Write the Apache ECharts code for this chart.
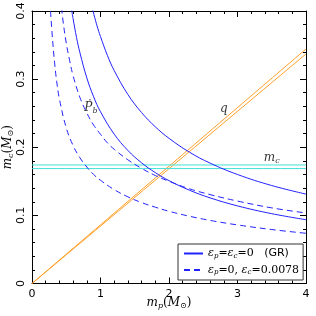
<!DOCTYPE html>
<html><head><meta charset="utf-8">
<script src="https://cdn.jsdelivr.net/npm/echarts@6/dist/echarts.min.js"></script>
<style>html,body{margin:0;padding:0;background:#fff}#c{width:316px;height:316px}</style>
</head><body><div id="c"></div>
<script>
// ---- data ----
const xTickLabels = ['0','1','2','3','4'];
const yTickLabels = ['0','0.1','0.2','0.3','0.4'];
// GR (solid) Pdot curves: [m_p, m_c]
const grUpper = [[0.88,0.404],[0.95,0.378],[1.0,0.3625],[1.1,0.335],[1.2,0.3126],[1.4,0.2774],[1.6,0.2509],[1.8,0.230],[2.0,0.2131],[2.3,0.1927],[2.6,0.1767],[3.0,0.160],[3.5,0.1438],[4.0,0.1312]];
const grLower = [[0.58,0.401],[0.6,0.3887],[0.65,0.3612],[0.7,0.3387],[0.8,0.3019],[0.9,0.274],[1.0,0.2521],[1.2,0.2192],[1.4,0.1953],[1.6,0.1771],[1.8,0.1628],[2.0,0.151],[2.3,0.1369],[2.6,0.1257],[3.0,0.1139],[3.5,0.1025],[4.0,0.0936]];
// eps_p=0, eps_c=0.0078 (dashed) Pdot curves
const dipUpper = [[0.43,0.405],[0.46,0.38],[0.5,0.353],[0.55,0.327],[0.6,0.305],[0.7,0.273],[0.8,0.2505],[0.9,0.2325],[1.0,0.219],[1.1,0.2065],[1.2,0.197],[1.4,0.1815],[1.6,0.169],[1.8,0.1585],[2.0,0.150],[2.3,0.139],[2.6,0.1305],[3.0,0.121],[3.5,0.111],[4.0,0.1035]];
const dipLower = [[0.27,0.40],[0.3,0.358],[0.33,0.324],[0.36,0.297],[0.4,0.271],[0.5,0.2285],[0.6,0.2025],[0.7,0.1845],[0.8,0.171],[0.9,0.160],[1.0,0.1515],[1.2,0.1378],[1.4,0.1272],[1.6,0.1188],[1.8,0.112],[2.0,0.106],[2.3,0.0987],[2.6,0.0926],[3.0,0.086],[3.5,0.0792],[4.0,0.0737]];
// mass-ratio (q) lines
const qUpper = [[0,0],[4,0.3443]];
const qLower = [[0,0],[4,0.337]];
// companion-mass (m_c) band
const mcUpper = [[0,0.174],[4,0.174]];
const mcLower = [[0,0.1687],[4,0.1687]];
// annotation anchors [m_p, m_c, label]
const notes = [[0.86,0.258,'pb'],[2.80,0.256,'q'],[3.50,0.185,'mc']];

const serif = 'DejaVu Serif';
const sans = 'DejaVu Sans';
const blue = '#2222ff', orange = '#ffa02a', cyan = '#40e0d8';
const chart = echarts.init(document.getElementById('c'), null, {renderer:'canvas'});

const legendRich = {
  e:{fontFamily:serif,fontStyle:'italic',fontSize:11,color:'#000'},
  s:{fontFamily:serif,fontStyle:'italic',fontSize:7,color:'#000',padding:[5,0,0,0]},
  n:{fontFamily:serif,fontSize:11,color:'#000'},
  g:{fontFamily:sans,fontSize:11,color:'#000'}
};
const noteRich = {
  i:{fontFamily:serif,fontStyle:'italic',fontSize:12,color:'#000'},
  s:{fontFamily:serif,fontStyle:'italic',fontSize:8,color:'#000',padding:[6,0,0,0]}
};
const noteText = {pb:'{i|\u1E56}{s|b}', q:'{i|q}', mc:'{i|m}{s|c}'};

function line(name, data, color, type){
  return {name, type:'line', data, symbol:'none', smooth:0.4,
    lineStyle:{color, width:1, type}, itemStyle:{color}, silent:true, animation:false, z:3};
}
function nameRich(){
  return {i:{fontFamily:serif,fontStyle:'italic',fontSize:12,color:'#000'},s:{fontFamily:serif,fontStyle:'italic',fontSize:8,color:'#000',padding:[6,0,0,0]},n:{fontFamily:serif,fontSize:12,color:'#000'}};
}
function axis(extra){
  return Object.assign({
    type:'value', min:0,
    axisLine:{show:true,onZero:false,lineStyle:{color:'#000',width:1}},
    axisTick:{show:true,inside:true,length:6,interval:0,lineStyle:{color:'#000',width:1,opacity:1}},
    minorTick:{show:true,splitNumber:5,length:3,lineStyle:{color:'#000',width:1,opacity:1}},
    splitLine:{show:false}
  }, extra);
}

chart.setOption({
  animation:false,
  grid:{left:32,right:10,top:11,bottom:32.5,containLabel:false,outerBoundsMode:'none'},
  xAxis:[
    axis({max:4,interval:1,position:'bottom',
      axisLabel:{fontFamily:sans,fontSize:11,color:'#000',margin:5,formatter:(v)=>xTickLabels[Math.round(v)]},
      name:'{i|m}{s|p}{n|(}{i|M}{s|\u2299}{n|)}',nameLocation:'middle',nameGap:12,nameMoveOverlap:false,
      nameTextStyle:{rich:nameRich(),verticalAlign:'top'}}),
    axis({max:4,interval:1,position:'top',axisLabel:{show:false}})
  ],
  yAxis:[
    axis({max:0.4,interval:0.1,position:'left',
      axisLabel:{fontFamily:sans,fontSize:11,color:'#000',rotate:90,margin:5,formatter:(v)=>yTickLabels[Math.round(v*10)]},
      name:'{i|m}{s|c}{n|(}{i|M}{s|\u2299}{n|)}',nameLocation:'middle',nameGap:17,nameRotate:90,nameMoveOverlap:false,
      nameTextStyle:{rich:nameRich(),verticalAlign:'bottom'}}),
    axis({max:0.4,interval:0.1,position:'right',axisLabel:{show:false}})
  ],
  legend:{
    data:['GR','DIP'], orient:'vertical', left:178, top:244,
    backgroundColor:'#fff', borderColor:'#333', borderWidth:1, borderRadius:0,
    padding:[4,4,4,5], itemGap:5, itemWidth:19, itemHeight:10,
    itemStyle:{opacity:0},
    formatter:(n)=> n==='GR' ? '{e|\u03b5}{s|p}{n|=}{e|\u03b5}{s|c}{n|=0   }{g|(GR)}'
                             : '{e|\u03b5}{s|p}{n|=0, }{e|\u03b5}{s|c}{n|=0.0078}',
    textStyle:{rich:legendRich}
  },
  series:[
    line('q1', qUpper, orange, 'solid'),
    line('q2', qLower, orange, 'solid'),
    line('mc1', mcUpper, cyan, 'solid'),
    line('mc2', mcLower, cyan, 'solid'),
    line('GR', grUpper, blue, 'solid'),
    line('GR', grLower, blue, 'solid'),
    line('DIP', dipUpper, blue, [6,4]),
    line('DIP', dipLower, blue, [6,4]),
    {name:'notes', type:'scatter', symbolSize:0, silent:true, animation:false,
     data:notes.map(n=>({value:[n[0],n[1]], label:{show:true, position:'inside', formatter:noteText[n[2]], rich:noteRich}}))}
  ]
});
</script></body></html>
